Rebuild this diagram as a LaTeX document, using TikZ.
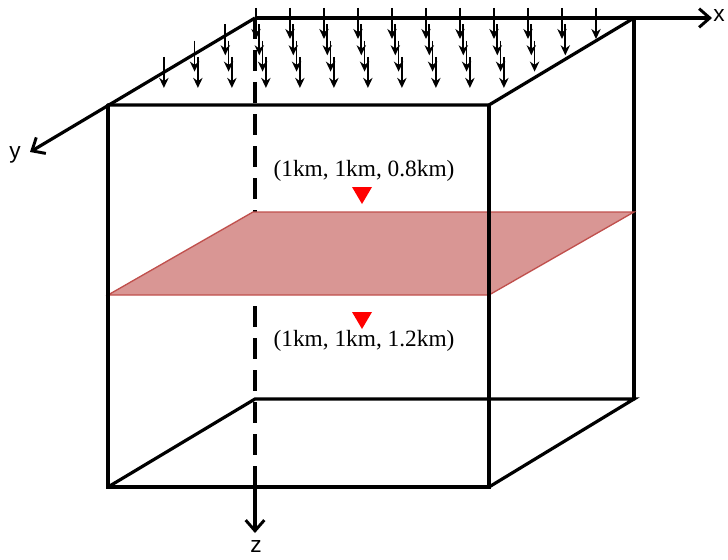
\documentclass[tikz,border=0pt]{standalone}
\usepackage{fontspec}
\setmainfont{Liberation Serif}
\newfontfamily\axisfont{Liberation Sans}
\usetikzlibrary{arrows.meta}

\definecolor{planefill}{RGB}{217,150,148}
\definecolor{planeedge}{RGB}{192,80,77}

\begin{document}
\begin{tikzpicture}[x=0.75pt,y=-0.75pt,
    edge/.style={line width=2.4pt,line cap=round},
    axisarrow/.style={line width=2.4pt,-{Straight Barb[length=8pt,width=14pt,line width=2.2pt]}},
    load/.style={line width=1.3pt,-{Stealth[length=7.5pt,width=7pt]}},
    receiver/.style={fill=red,draw=none},
    coordlabel/.style={font=\fontsize{17.5}{20}\selectfont},
    axislabel/.style={font=\axisfont\fontsize{17}{19}\selectfont,inner sep=0pt}]
    \useasboundingbox (0,0) rectangle (728,560);
    % corners of the box
    \coordinate (o) at (255,18);
    \coordinate (bk) at (634,18);
    \coordinate (fl) at (108,105);
    \coordinate (fr) at (489,105);
    \coordinate (fbl) at (108,487);
    \coordinate (fbr) at (489,487);
    \coordinate (bbl) at (255,399);
    \coordinate (bbr) at (634,399);
    \coordinate (zb) at (255,487);
    % back edges
    \draw[edge] (fbl) -- (bbl) -- (bbr) -- (fbr);
    \draw[edge] (bk) -- (bbr);
    \draw[line width=2.4pt,dash pattern=on 16pt off 8pt] (o) -- (zb);
    % observation plane
    \draw[fill=planefill,draw=planeedge,line width=1pt] (108,295) -- (489,295) -- (634,212) -- (253,212) -- cycle;
    % front edges
    \draw[edge] (fl) -- (fr) -- (bk);
    \draw[edge] (fl) -- (fbl) -- (fbr) -- (fr);
    % axes
    \draw[axisarrow] (o) -- (712,18);
    \draw[axisarrow] (o) -- (30,152);
    \draw[axisarrow] (zb) -- (255,533);
    \node[axislabel] (xl) at (719,16) {x};
    \node[axislabel] (yl) at (15,155) {y};
    \node[axislabel] (zl) at (256,547) {z};
    % loads on top
    \foreach \k in {0,...,3}
        \foreach \j in {0,...,10}
            \draw[load] ({256-30.7*\k+34*\j},{8+16.3*\k}) -- ++(0,31);
    % receivers
    \fill[receiver] (352,187) -- (372,187) -- (362,204) -- cycle;
    \fill[receiver] (352,312) -- (372,312) -- (362,329) -- cycle;
    \node[coordlabel] (top) at (364,171) {(1km, 1km, 0.8km)};
    \node[coordlabel] (bot) at (364,341) {(1km, 1km, 1.2km)};
\end{tikzpicture}
\end{document}
